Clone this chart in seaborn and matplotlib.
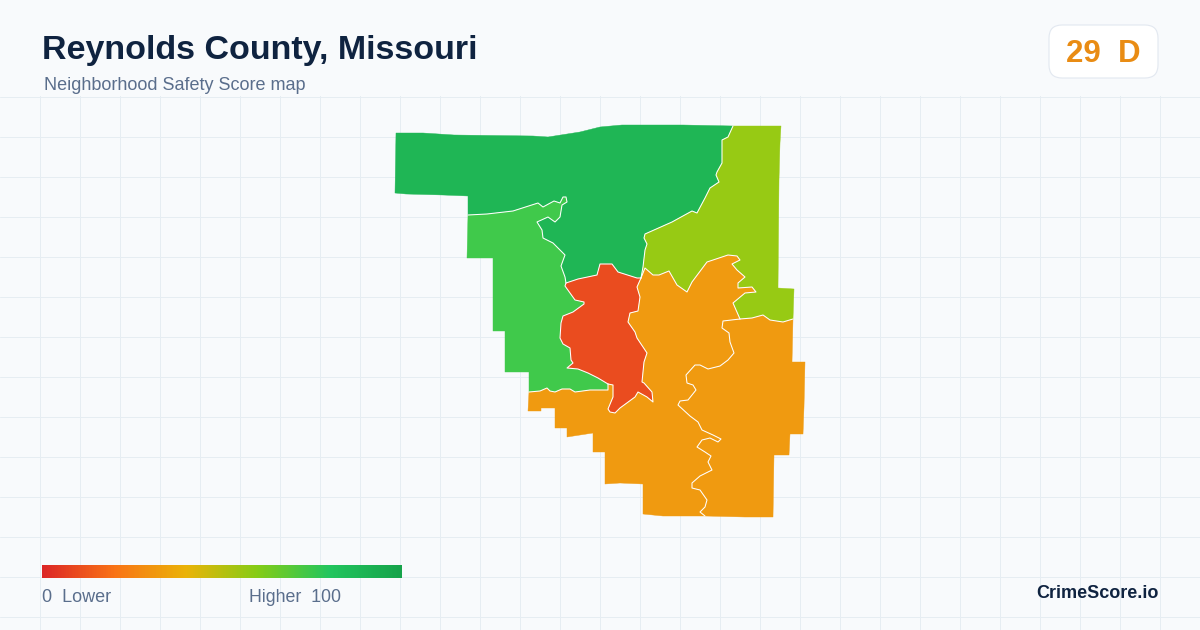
import numpy as np
import pandas as pd
import seaborn as sns
import matplotlib.pyplot as plt
from matplotlib.patches import FancyBboxPatch, Rectangle

BG = "#F8FAFC"
GRID = "#E6EDF2"
NAVY = "#0F2340"
SLATE = "#5A6E8C"
AMBER = "#E98C14"

sns.set_theme(
    style="whitegrid",
    rc={"axes.facecolor": BG, "figure.facecolor": BG, "grid.color": GRID, "grid.linewidth": 0.72},
)
plt.rcParams["font.family"] = ["Liberation Sans", "DejaVu Sans"]

title = "Reynolds County, Missouri"
subtitle = "Neighborhood Safety Score map"
score_label = "29  D"
brand = "CrimeScore.io"
legend_low = "0  Lower"
legend_high = "Higher  100"

scale_colors = ["#DC2626", "#F97316", "#EAB308", "#84CC16", "#22C55E", "#16A34A"]
north_color = "#1FB655"
west_color = "#40C94B"
northeast_color = "#97CA14"
south_color = "#F09A10"
center_color = "#EA4C1F"

# outlines, in picture pixels
north_outer = [(396, 133), (423, 133), (454, 135), (533, 136), (548, 137), (580, 132), (600, 127), (622, 125), (683, 125), (733, 126)]
north_ne = [(733, 126), (728, 137), (722, 140), (722, 150), (722, 163), (717, 172), (716, 175), (719, 182), (710, 188),
            (705, 198), (697, 213), (692, 211), (672, 222), (645, 234), (644, 238), (647, 244), (645, 250), (643, 267), (641, 278)]
north_center = [(641, 278), (637, 278), (618, 272), (612, 264), (600, 264), (597, 275), (578, 279), (566, 283)]
north_west = [(566, 283), (565, 277), (561, 266), (565, 255), (553, 243), (543, 238), (542, 230), (537, 222), (548, 217),
              (555, 222), (560, 217), (562, 205), (567, 202), (566, 197), (563, 197), (560, 203), (554, 201), (543, 207),
              (538, 203), (513, 211), (487, 214), (468, 215)]
north_back = [(468, 215), (468, 196), (443, 195), (406, 194), (395, 193), (396, 133)]

west_center = [(566, 283), (565, 286), (575, 300), (584, 302), (584, 304), (573, 312), (563, 316), (561, 323), (560, 338),
               (563, 344), (570, 348), (571, 360), (573, 363), (567, 368), (578, 369), (588, 373), (598, 378), (608, 384)]
west_south = [(608, 384), (608, 390), (590, 390), (575, 392), (570, 389), (562, 389), (555, 392), (550, 391), (547, 388),
              (540, 391), (529, 392)]
west_back = [(529, 392), (529, 372), (505, 372), (505, 331), (493, 331), (493, 258), (467, 258), (468, 215)]

center_south = [(608, 384), (613, 385), (613, 397), (608, 409), (610, 412), (615, 413), (620, 408), (635, 397), (638, 392),
                (647, 397), (653, 402), (652, 392), (644, 383), (642, 382), (644, 362), (647, 353), (637, 338), (635, 332),
                (628, 322), (630, 313), (638, 311), (640, 297), (637, 287), (641, 278)]

ne_south = [(641, 278), (645, 268), (653, 275), (659, 275), (669, 271), (677, 285), (687, 292), (692, 282), (707, 262),
            (728, 255), (737, 256), (740, 260), (732, 264), (737, 270), (745, 277), (738, 283), (738, 288), (752, 287),
            (756, 292), (745, 293), (733, 303), (740, 319)]
ne_east = [(740, 319), (752, 318), (763, 315), (770, 320), (783, 322), (793, 319)]
ne_back = [(793, 319), (794, 289), (778, 288), (779, 180), (780, 143), (781, 126), (733, 126)]

east_inner = [(740, 319), (723, 321), (722, 328), (729, 333), (730, 342), (734, 353), (728, 360), (720, 366), (708, 369),
              (700, 365), (695, 365), (686, 375), (687, 383), (693, 385), (696, 390), (688, 400), (680, 401), (678, 405),
              (690, 416), (698, 422), (702, 430), (713, 435), (721, 439), (718, 442), (710, 438), (702, 440), (697, 447),
              (705, 452), (711, 456), (708, 462), (712, 470), (700, 476), (692, 483), (692, 488), (700, 490), (707, 500),
              (705, 507), (700, 512), (705, 516)]
east_back = [(705, 516), (745, 517), (773, 517), (774, 455), (789, 455), (790, 434), (803, 434), (804, 407), (805, 362),
             (792, 362), (793, 319)]
south_back = [(705, 516), (663, 516), (643, 514), (643, 484), (620, 483), (605, 484), (605, 452), (593, 452), (593, 433),
              (567, 437), (567, 428), (555, 428), (555, 408), (541, 408), (541, 411), (528, 411), (529, 392)]

regions = [
    (north_color, [north_outer, north_ne, north_center, north_west, north_back]),
    (west_color, [north_west[::-1], west_center, west_south, west_back]),
    (center_color, [north_center, west_center, center_south]),
    (northeast_color, [north_ne, ne_south, ne_east, ne_back]),
    (south_color, [ne_south[::-1], center_south[::-1], west_south, south_back[::-1], east_inner[::-1]]),
    (south_color, [ne_east, east_back[::-1], east_inner[::-1]]),
]
borders = [north_ne, north_center, north_west, west_center, west_south, center_south, ne_south, ne_east, east_inner]

fig = plt.figure(figsize=(12, 6.3), dpi=100)
ax = fig.add_axes([0, 0, 1, 1])
ax.set_xlim(0, 1200)
ax.set_ylim(630, 0)
ax.set_xticks(np.arange(40, 1200, 40))
ax.set_yticks(np.arange(97, 630, 40))
ax.tick_params(labelbottom=False, labelleft=False, length=0)
ax.set_axisbelow(True)
for s in ax.spines.values():
    s.set_visible(False)

# header has no grid
ax.add_patch(Rectangle((0, 0), 1200, 96, fc=BG, ec="none", zorder=1))

for color, parts in regions:
    outline = np.vstack([np.array(p) for p in parts])
    ax.fill(outline[:, 0], outline[:, 1], fc=color, ec=color, lw=0.3, zorder=2)

for seg in borders:
    line = pd.DataFrame(seg, columns=["x", "y"])
    sns.lineplot(data=line, x="x", y="y", sort=False, estimator=None, color="white", lw=0.75, ax=ax, zorder=3)
ax.set_xlabel("")
ax.set_ylabel("")

ax.text(42, 59.5, title, fontsize=24.5, fontweight="bold", color=NAVY, va="baseline", ha="left")
ax.text(44, 90.5, subtitle, fontsize=13, color=SLATE, va="baseline", ha="left")

ax.add_patch(FancyBboxPatch((1049, 25), 109, 53, boxstyle="round,pad=0,rounding_size=13", fc="white", ec="#E2E8F0", lw=0.8, zorder=3))
ax.text(1103, 62, score_label, fontsize=22.5, fontweight="bold", color=AMBER, va="baseline", ha="center", zorder=4)

ax.text(42, 602.5, legend_low, fontsize=13, color=SLATE, va="baseline", ha="left")
ax.text(249, 602.5, legend_high, fontsize=12.8, color=SLATE, va="baseline", ha="left")
ax.text(1158.5, 598.5, brand, fontsize=13, fontweight="bold", color=NAVY, va="baseline", ha="right")

cax = fig.add_axes([42 / 1200, (630 - 578) / 630, 360 / 1200, 13 / 630])
ramp = sns.blend_palette(scale_colors, n_colors=256, as_cmap=True)
sns.heatmap(np.linspace(0, 100, 360).reshape(1, -1), cmap=ramp, vmin=0, vmax=100, cbar=False,
            xticklabels=False, yticklabels=False, ax=cax)

fig.savefig("out.png", dpi=100, facecolor=BG)
